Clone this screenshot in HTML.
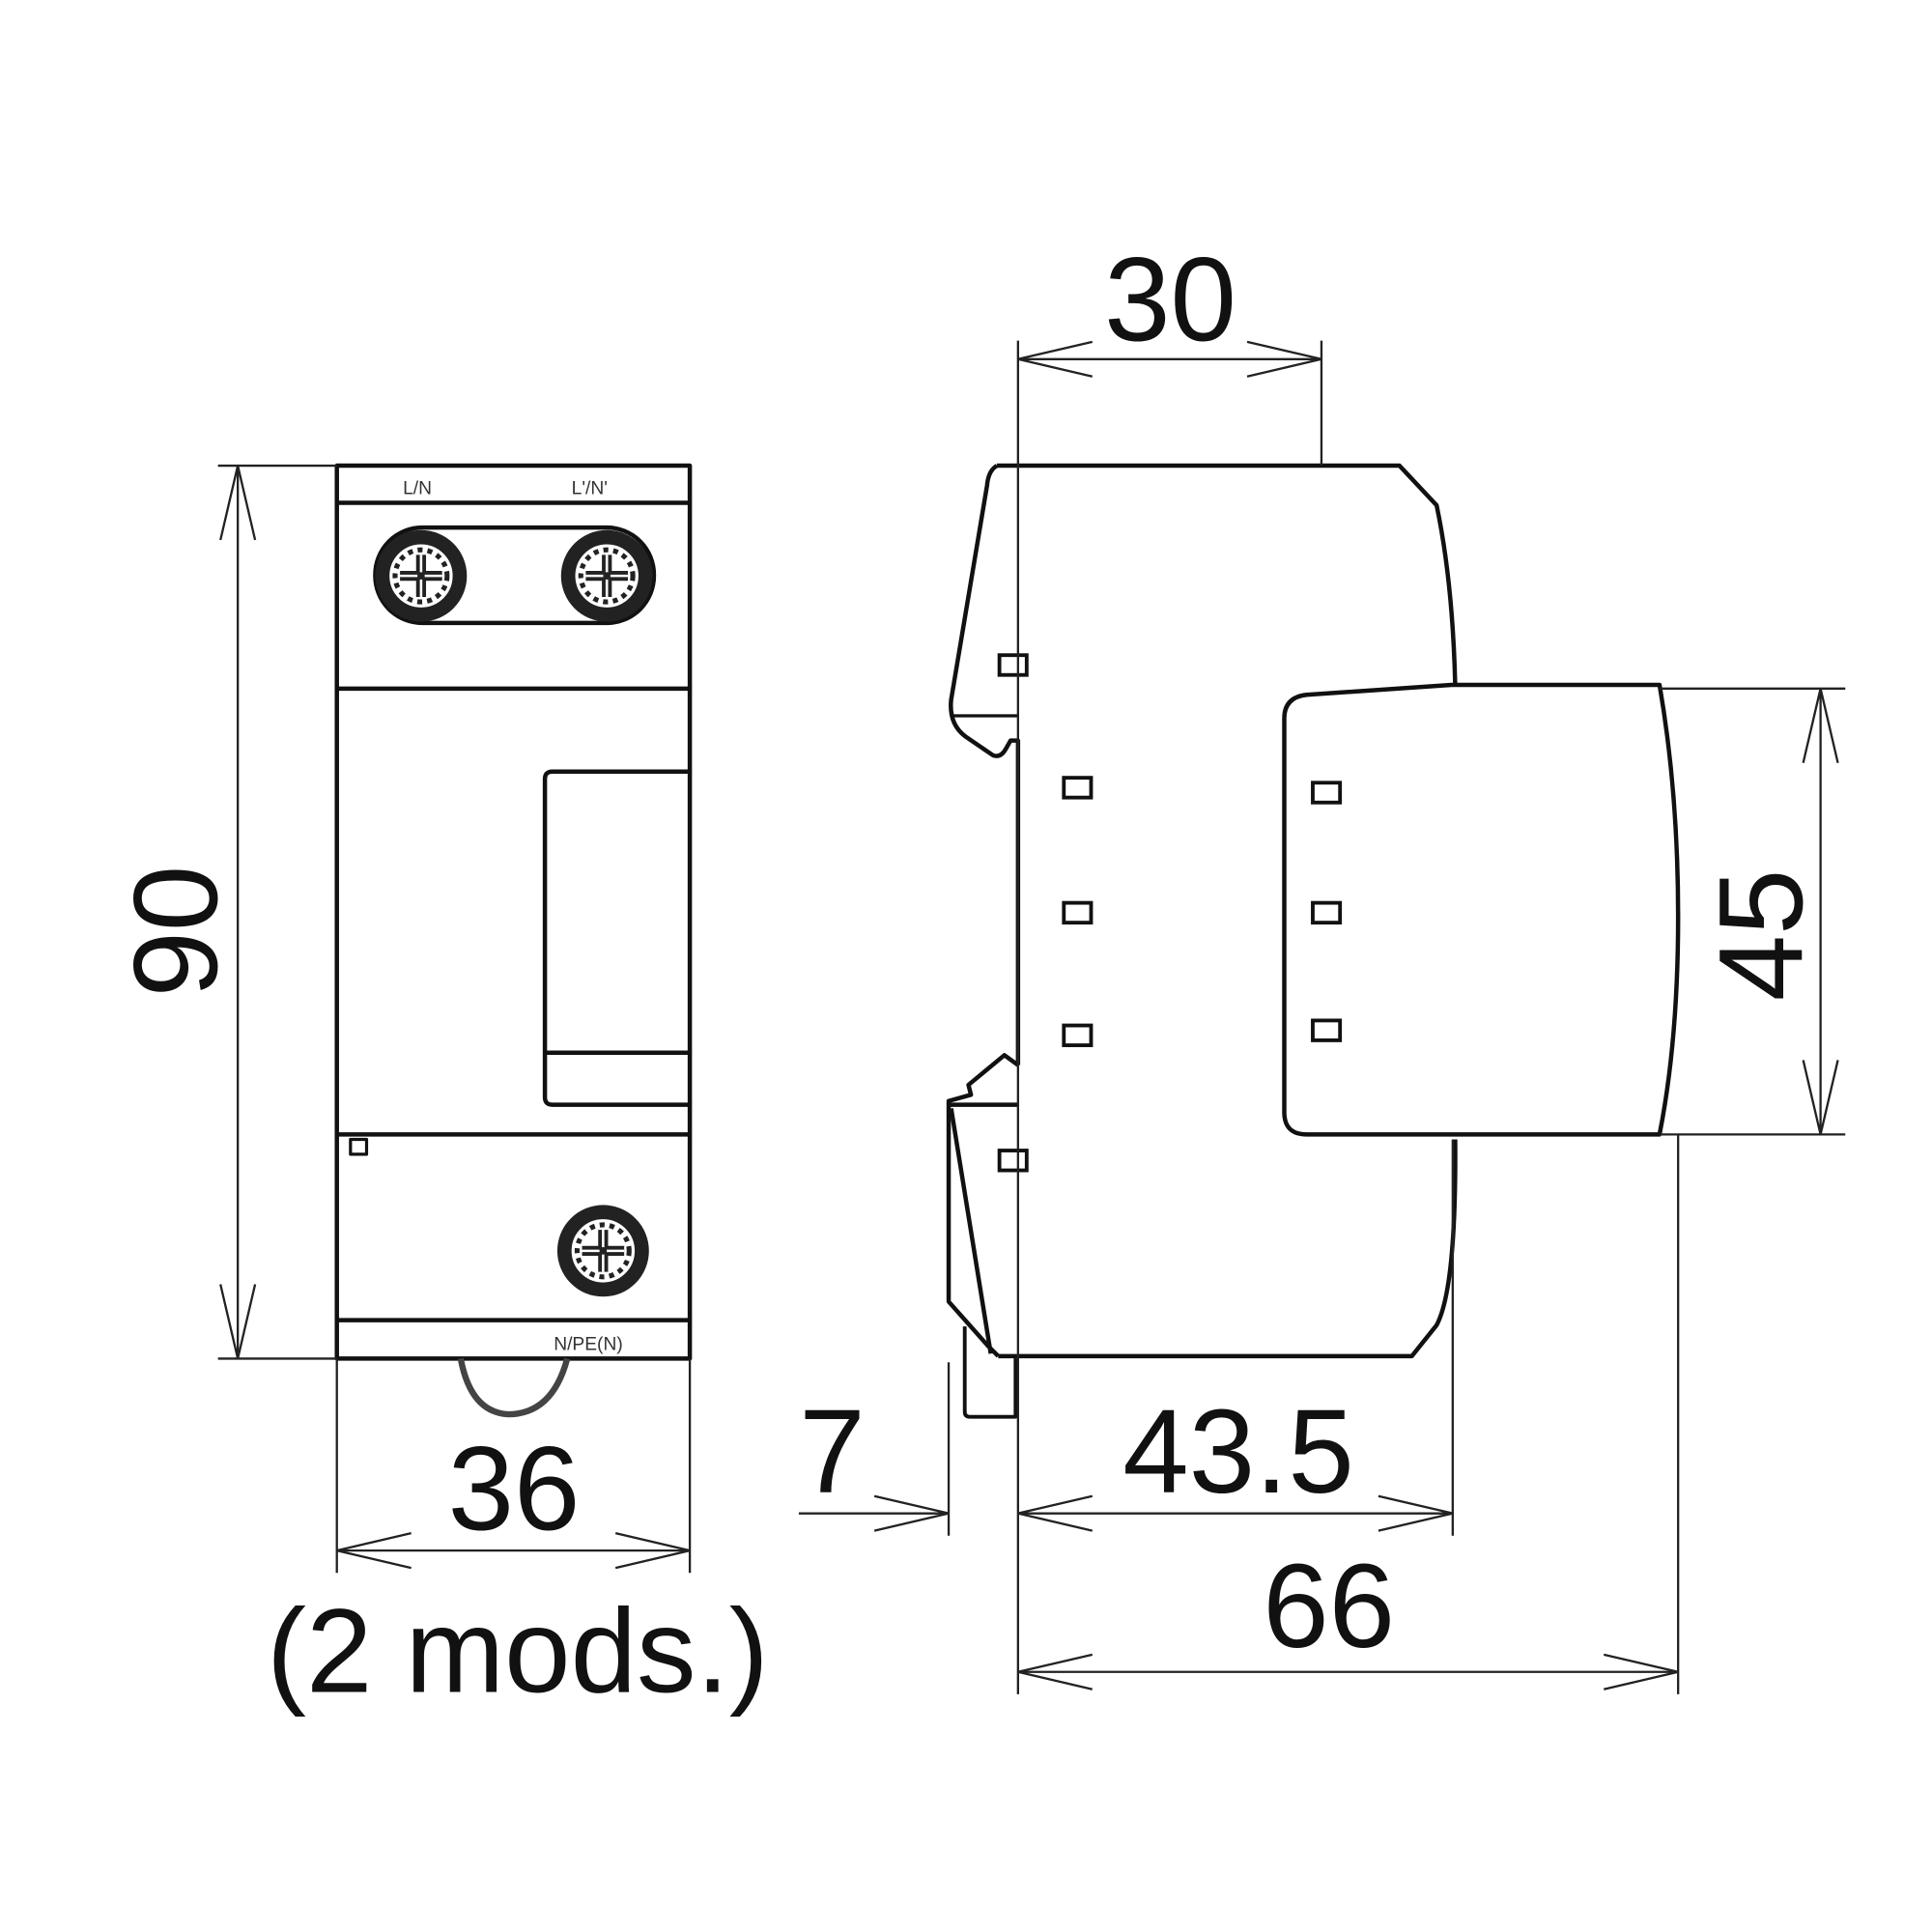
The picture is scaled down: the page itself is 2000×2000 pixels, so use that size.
<!DOCTYPE html>
<html><head><meta charset="utf-8"><style>html,body{margin:0;padding:0;background:#fff}svg{display:block}</style></head>
<body>
<svg width="2000" height="2000" viewBox="0 0 1560 1560" xmlns="http://www.w3.org/2000/svg" font-family="Liberation Sans, sans-serif">
<defs>
<g id="scr">
<circle r="37" fill="#222"/>
<circle r="27" fill="#fff" stroke="#222" stroke-width="3"/>
<g stroke="#222" stroke-width="4" stroke-dasharray="4 4" fill="none"><circle r="21"/></g>
<g stroke="#222" stroke-width="8"><line x1="-17" y1="0" x2="17" y2="0"/><line x1="0" y1="-17" x2="0" y2="17"/></g>
<g stroke="#fff" stroke-width="2"><line x1="-17" y1="0" x2="17" y2="0"/><line x1="0" y1="-17" x2="0" y2="17"/></g>
<circle r="3" fill="#222"/>
</g>
<rect id="sq" x="-11" y="-8" width="22" height="16" fill="none" stroke="#111" stroke-width="3"/>
</defs>
<g fill="none" stroke="#111" stroke-width="3.5" stroke-linejoin="round">
<rect x="272" y="376" width="285" height="721"/>
<line x1="272" y1="406" x2="557" y2="406"/>
<line x1="272" y1="556" x2="557" y2="556"/>
<line x1="272" y1="916" x2="557" y2="916"/>
<line x1="272" y1="1066" x2="557" y2="1066"/>
<rect x="303" y="426" width="225" height="77" rx="38"/>
<path d="M557 623 H446 Q440 623 440 629 V886 Q440 892 446 892 H557"/>
<line x1="440" y1="850" x2="557" y2="850"/>
<rect x="283" y="920" width="13" height="12" stroke-width="2.5"/>
<path d="M372 1097 Q380 1140 410 1142 Q446 1142 458 1097" stroke="#444" stroke-width="5"/>
<path d="M805 376 H1130 L1160 408 Q1173 470 1175 553"/>
<path d="M1175 920 Q1176 1040 1160 1070 L1140 1095 H806"/>
<path d="M805 376 Q798 380 797 392 L768 565 Q766 585 780 595 L802 610 Q808 612 812 605 L816 598 H822 V860"/>
<line x1="768" y1="578" x2="822" y2="578" stroke-width="2.5"/>
<path d="M822 860 L811 852 L782 876 L784 884 L766 889 V1051 L798 1087 L806 1095"/>
<line x1="766" y1="892" x2="822" y2="892"/>
<line x1="768" y1="895" x2="800" y2="1093"/>
<path d="M779 1071 V1140 Q779 1144 783 1144 H820 V1095" stroke-width="3"/>
<path d="M1037 580 Q1037 563 1055 561 L1172 553 H1340 Q1355 640 1355 740 Q1355 840 1340 916 H1055 Q1037 916 1037 898 Z"/>
</g>
<g transform="translate(340 465)"><use href="#scr"/></g>
<g transform="translate(490 465)"><use href="#scr"/></g>
<g transform="translate(487 1010)"><use href="#scr"/></g>
<use href="#sq" x="818" y="537"/><use href="#sq" x="870" y="636"/><use href="#sq" x="870" y="737"/><use href="#sq" x="870" y="836"/><use href="#sq" x="818" y="937"/>
<use href="#sq" x="1071" y="640"/><use href="#sq" x="1071" y="737"/><use href="#sq" x="1071" y="832"/>
<g font-size="15" fill="#333" text-anchor="middle"><text x="337" y="399">L/N</text><text x="476" y="399">L'/N'</text><text x="475" y="1090">N/PE(N)</text></g>
<g fill="none" stroke="#222" stroke-width="1.8">
<line x1="176" y1="376" x2="272" y2="376"/><line x1="176" y1="1097" x2="272" y2="1097"/>
<line x1="192" y1="376" x2="192" y2="1097"/>
<polyline points="178,436 192,376 206,436"/><polyline points="178,1037 192,1097 206,1037"/>
<line x1="272" y1="1097" x2="272" y2="1270"/><line x1="557" y1="1097" x2="557" y2="1270"/>
<line x1="272" y1="1252" x2="557" y2="1252"/>
<polyline points="332,1238 272,1252 332,1266"/><polyline points="497,1238 557,1252 497,1266"/>
<line x1="822" y1="275" x2="822" y2="1368"/><line x1="1067" y1="275" x2="1067" y2="376"/>
<line x1="822" y1="290" x2="1067" y2="290"/>
<polyline points="882,276 822,290 882,304"/><polyline points="1007,276 1067,290 1007,304"/>
<line x1="1340" y1="556" x2="1490" y2="556"/><line x1="1340" y1="916" x2="1490" y2="916"/>
<line x1="1470" y1="556" x2="1470" y2="916"/>
<polyline points="1456,616 1470,556 1484,616"/><polyline points="1456,856 1470,916 1484,856"/>
<line x1="766" y1="1100" x2="766" y2="1240"/><line x1="1173" y1="920" x2="1173" y2="1240"/>
<line x1="645" y1="1222" x2="766" y2="1222"/>
<polyline points="706,1208 766,1222 706,1236"/>
<line x1="822" y1="1222" x2="1173" y2="1222"/>
<polyline points="882,1208 822,1222 882,1236"/><polyline points="1113,1208 1173,1222 1113,1236"/>
<line x1="1355" y1="916" x2="1355" y2="1368"/>
<line x1="822" y1="1350" x2="1355" y2="1350"/>
<polyline points="882,1336 822,1350 882,1364"/><polyline points="1295,1336 1355,1350 1295,1364"/>
</g>
<g font-size="96" fill="#111" text-anchor="middle">
<text x="945" y="275">30</text>
<text x="415" y="1235">36</text>
<text x="418" y="1366">(2 mods.)</text>
<text x="672" y="1205">7</text>
<text x="1000" y="1205">43.5</text>
<text x="1073" y="1330">66</text>
<text transform="translate(175 752) rotate(-90)">90</text>
<text transform="translate(1455 755) rotate(-90)">45</text>
</g>
</svg>
</body></html>
